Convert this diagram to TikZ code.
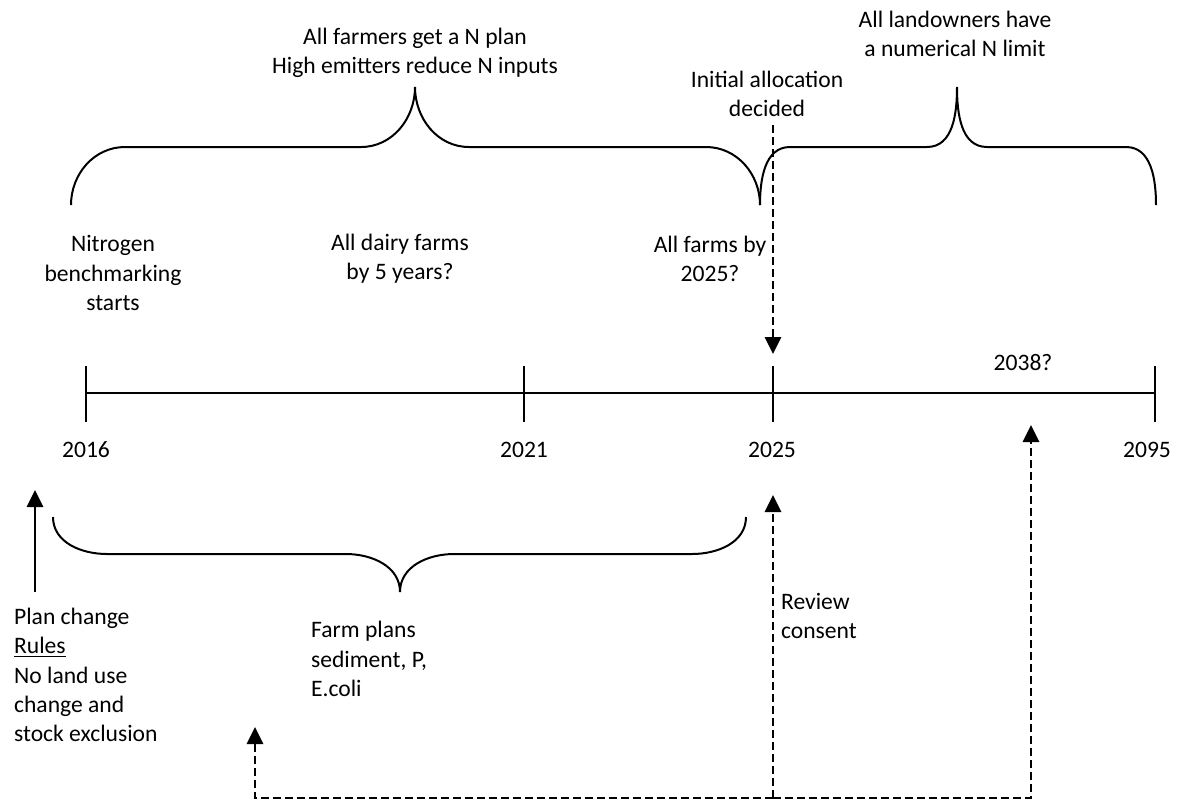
\documentclass[tikz,border=0pt]{standalone}
\usepackage{fontspec}
\setmainfont{Carlito}
\usetikzlibrary{arrows.meta,calc,positioning}
\tikzset{
	timeline/.style={x=0.5pt, y=-0.5pt, line width=1.1pt},
	txt/.style={font=\fontsize{11.8}{14.65}\selectfont, inner sep=0pt, align=center},
	txtl/.style={txt, align=left, anchor=west},
	curly/.style={line width=1pt},
	up/.style={line width=1.4pt, -{Triangle[length=8.5pt,width=8pt]}},
	dup/.style={up, dash pattern=on 4pt off 2pt}
}

\begin{document}
\begin{tikzpicture}[timeline]
   \useasboundingbox (0,0) rectangle (1178,800);
   % axis with ticks and years
   \coordinate (start) at (86,393);
   \coordinate (end) at (1155,393);
   \draw (start) -- (end);
   \foreach \x/\lx/\yr in {86/86/2016, 524/524/2021, 773/772/2025, 1155/1147/2095} {
      \draw (\x,366) coordinate (tk\yr) -- (\x,422) coordinate (bt\yr);
      \node[txt] (y\yr) at (\lx,450) {\yr};
   }
   \node[txt] (y2038) at (1023,363) {2038?};

   % braces above
   \draw[curly] (71,205) to[out=90,in=180] (125,147) -- (361,147) to[out=0,in=-90] (415,87)
      to[out=-90,in=180] (469,147) -- (706,147) to[out=0,in=90] (760,205);
   \draw[curly] (760,205) to[out=90,in=180] (790,147) -- (927,147) to[out=0,in=-90] (957,87)
      to[out=-90,in=180] (987,147) -- (1126,147) to[out=0,in=90] (1156,205);
   \node[txt] (nplan) at (415,53) {All farmers get a N plan\\High emitters reduce N inputs};
   \node[txt] (nlimit) at (955,34) {All landowners have\\a numerical N limit};
   \node[txt] (init) at (767,94) {Initial allocation\\decided};
   \coordinate (iabase) at (773,125);
   \coordinate (iatip) at (773,354);
   \draw[dup] (iabase) -- (iatip);

   % texts over the axis
   \node[txt] (bench) at (113,273) {Nitrogen\\benchmarking\\starts};
   \node[txt] (dairy) at (400,259) {All dairy farms\\by 5 years?};
   \node[txt] (allfarms) at (710,259) {All farms by\\2025?};

   % brace below
   \draw[curly] (53,517) to[out=-90,in=180] (107,554) -- (346,554) to[out=0,in=90] (400,592)
      to[out=90,in=180] (454,554) -- (692,554) to[out=0,in=-90] (746,517);

   % texts under the axis
   \node[txtl] (plan) at (13,675) {Plan change\\\underline{Rules}\\No land use\\change and\\stock exclusion};
   \node[txtl] (farmplans) at (310,659) {Farm plans\\sediment, P,\\E.coli};
   \node[txtl] (review) at (780,616) {Review\\consent};

   \coordinate (pcbase) at (35,592);
   \coordinate (pctip) at (35,490);
   \draw[up] (pcbase) -- (pctip);

   % review loop
   \coordinate (fork) at (773,798);
   \coordinate (rctip) at (773,495);
   \coordinate (fptip) at (255,727);
   \coordinate (limtip) at (1031,425);
   \draw[dup] (fork) -- (rctip);
   \draw[dup] (fork) -| (fptip);
   \draw[dup] (fork) -| (limtip);
\end{tikzpicture}
\end{document}
